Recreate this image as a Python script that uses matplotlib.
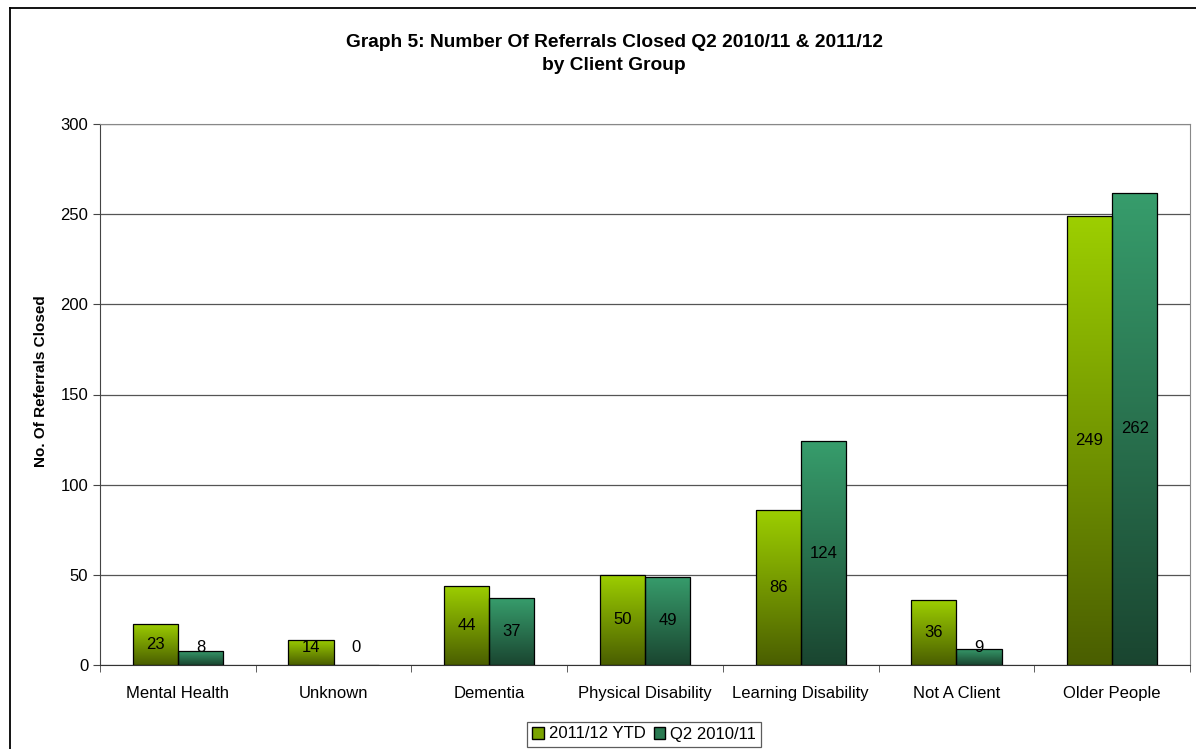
import matplotlib.pyplot as plt
import numpy as np
from matplotlib.colors import LinearSegmentedColormap
from matplotlib.lines import Line2D
from matplotlib.patches import Patch

plt.rcParams['font.family'] = ['Liberation Sans', 'DejaVu Sans']

categories = ["Mental Health", "Unknown", "Dementia", "Physical Disability",
              "Learning Disability", "Not A Client", "Older People"]
ytd_2011 = [23, 14, 44, 50, 86, 36, 249]
q2_2010 = [8, 0, 37, 49, 124, 9, 262]
series_names = ["2011/12 YTD", "Q2 2010/11"]

green = LinearSegmentedColormap.from_list("green", ["#4a5e00", "#9dcf00"])
teal = LinearSegmentedColormap.from_list("teal", ["#1a4530", "#379d6c"])

fig = plt.figure(figsize=(11.96, 7.49), dpi=100)
ax = fig.add_axes([100 / 1196, (749 - 665) / 749, 1090 / 1196, 541 / 749])

# outer chart frame (only top and left edges are visible)
fig.add_artist(Line2D([10 / 1196, 10 / 1196], [0, 1 - 8 / 749],
                      transform=fig.transFigure, color="black", lw=1.3))
fig.add_artist(Line2D([10 / 1196, 1], [1 - 8 / 749, 1 - 8 / 749],
                      transform=fig.transFigure, color="black", lw=1.3))

x = np.arange(len(categories))
w = 0.29
grad = np.linspace(0, 1, 256).reshape(-1, 1)


def gradient_bars(xs, values, cmap):
    bars = ax.bar(xs, values, w, facecolor="none", edgecolor="black",
                  linewidth=0.9, zorder=3)
    for bar in bars:
        if bar.get_height() <= 0:
            continue
        bx, by = bar.get_x(), bar.get_y()
        img = ax.imshow(grad, cmap=cmap, origin="lower", aspect="auto",
                        extent=[bx, bx + bar.get_width(), by, by + bar.get_height()],
                        zorder=2)
        img.set_clip_path(bar)
    return bars


gradient_bars(x - w / 2, ytd_2011, green)
gradient_bars(x + w / 2, q2_2010, teal)

for xs, vals in ((x - w / 2, ytd_2011), (x + w / 2, q2_2010)):
    for xi, v in zip(xs, vals):
        ax.text(xi, max(v / 2, 9.5), str(v), ha="center", va="center",
                fontsize=12, zorder=4)

ax.set_xlim(-0.5, len(categories) - 0.5)
ax.set_ylim(0, 300)
ax.set_yticks(range(0, 301, 50))
ax.tick_params(axis="y", labelsize=12, length=5, direction="out", color="#444444")
ax.set_xticks(x)
ax.set_xticklabels(categories, fontsize=12)
ax.tick_params(axis="x", length=0, pad=15)
ax.set_xticks(np.arange(-0.5, len(categories)), minor=True)
ax.tick_params(axis="x", which="minor", length=5, color="#444444")
ax.grid(axis="y", color="#555555", lw=0.9)
ax.set_axisbelow(True)

ax.spines["left"].set_color("#444444")
ax.spines["bottom"].set_color("#333333")
ax.spines["top"].set_color("#888888")
ax.spines["right"].set_color("#888888")

ax.set_ylabel("No. Of Referrals Closed", fontsize=11, fontweight="bold")
ax.yaxis.set_label_coords(-52 / 1090, 0.524)

fig.text(614 / 1196, 1 - 54 / 749,
         "Graph 5: Number Of Referrals Closed Q2 2010/11 & 2011/12\nby Client Group",
         ha="center", va="center", fontsize=13.8, fontweight="bold", linespacing=1.4)

handles = [Patch(facecolor="#7aa300", edgecolor="black"),
           Patch(facecolor="#2a7a52", edgecolor="black")]
leg = fig.legend(handles, series_names, loc="center", ncol=2,
                 bbox_to_anchor=(644 / 1196, 1 - 734 / 749), fontsize=12,
                 frameon=True, fancybox=False, handlelength=0.7, handleheight=0.7,
                 handletextpad=0.3, columnspacing=0.5, borderpad=0.3)
leg.get_frame().set_edgecolor("#333333")
leg.get_frame().set_linewidth(0.9)

fig.savefig("out.png", dpi=100)
